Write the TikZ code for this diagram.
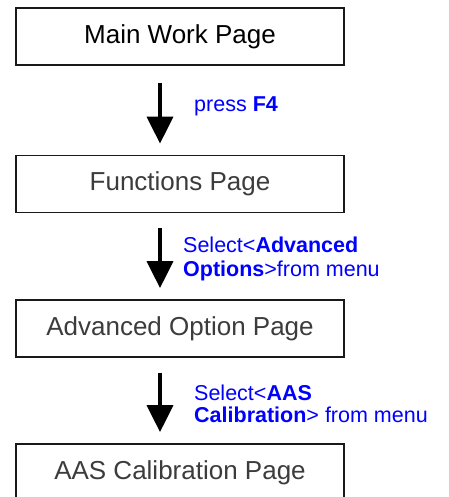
\documentclass[tikz,border=0pt]{standalone}
\usepackage{fontspec}
\setmainfont{Liberation Sans}
\usetikzlibrary{arrows.meta}
\definecolor{lblue}{RGB}{0,0,255}
\definecolor{boxtext}{RGB}{60,60,60}
\begin{document}
\begin{tikzpicture}[x=1pt,y=-1pt,
  pagebox/.style={draw=black!90, line width=1.8pt, minimum width=328pt, minimum height=57pt, inner sep=0pt, text=boxtext, font=\fontsize{26}{30}\selectfont},
  flow/.style={line width=3.6pt, -{Triangle[width=26pt,length=27pt]}, shorten <=15pt, shorten >=11pt},
  lbl/.style={text=lblue, font=\fontsize{21.5}{24}\selectfont, align=left, inner sep=0pt, anchor=base west}
]
\clip (0,0) rectangle (448,497);
\fill[white] (0,0) rectangle (448,497);
\node[pagebox, text=black] (p1) at (180,36.5) {Main Work Page};
\node[pagebox] (p2) at (180,184) {Functions Page};
\node[pagebox] (p3) at (180,328.5) {Advanced Option Page};
\node[pagebox] (p4) at (180,472.5) {AAS Calibration Page};
\draw[flow, shorten <=17pt] ([xshift=-20pt]p1.south) -- ([xshift=-20pt]p2.north);
\draw[flow] ([xshift=-20pt]p2.south) -- ([xshift=-20pt]p3.north);
\draw[flow] ([xshift=-20pt]p3.south) -- ([xshift=-20pt]p4.north);
\node[lbl] (l1) at (194,112) {press \textbf{F4}};
\node[lbl] (l2) at (183,276) {Select<\textbf{Advanced}\\\textbf{Options}>from menu};
\node[lbl, font=\fontsize{21.5}{22}\selectfont] (l3) at (194,422) {Select<\textbf{AAS}\\\textbf{Calibration}> from menu};
\end{tikzpicture}
\end{document}
